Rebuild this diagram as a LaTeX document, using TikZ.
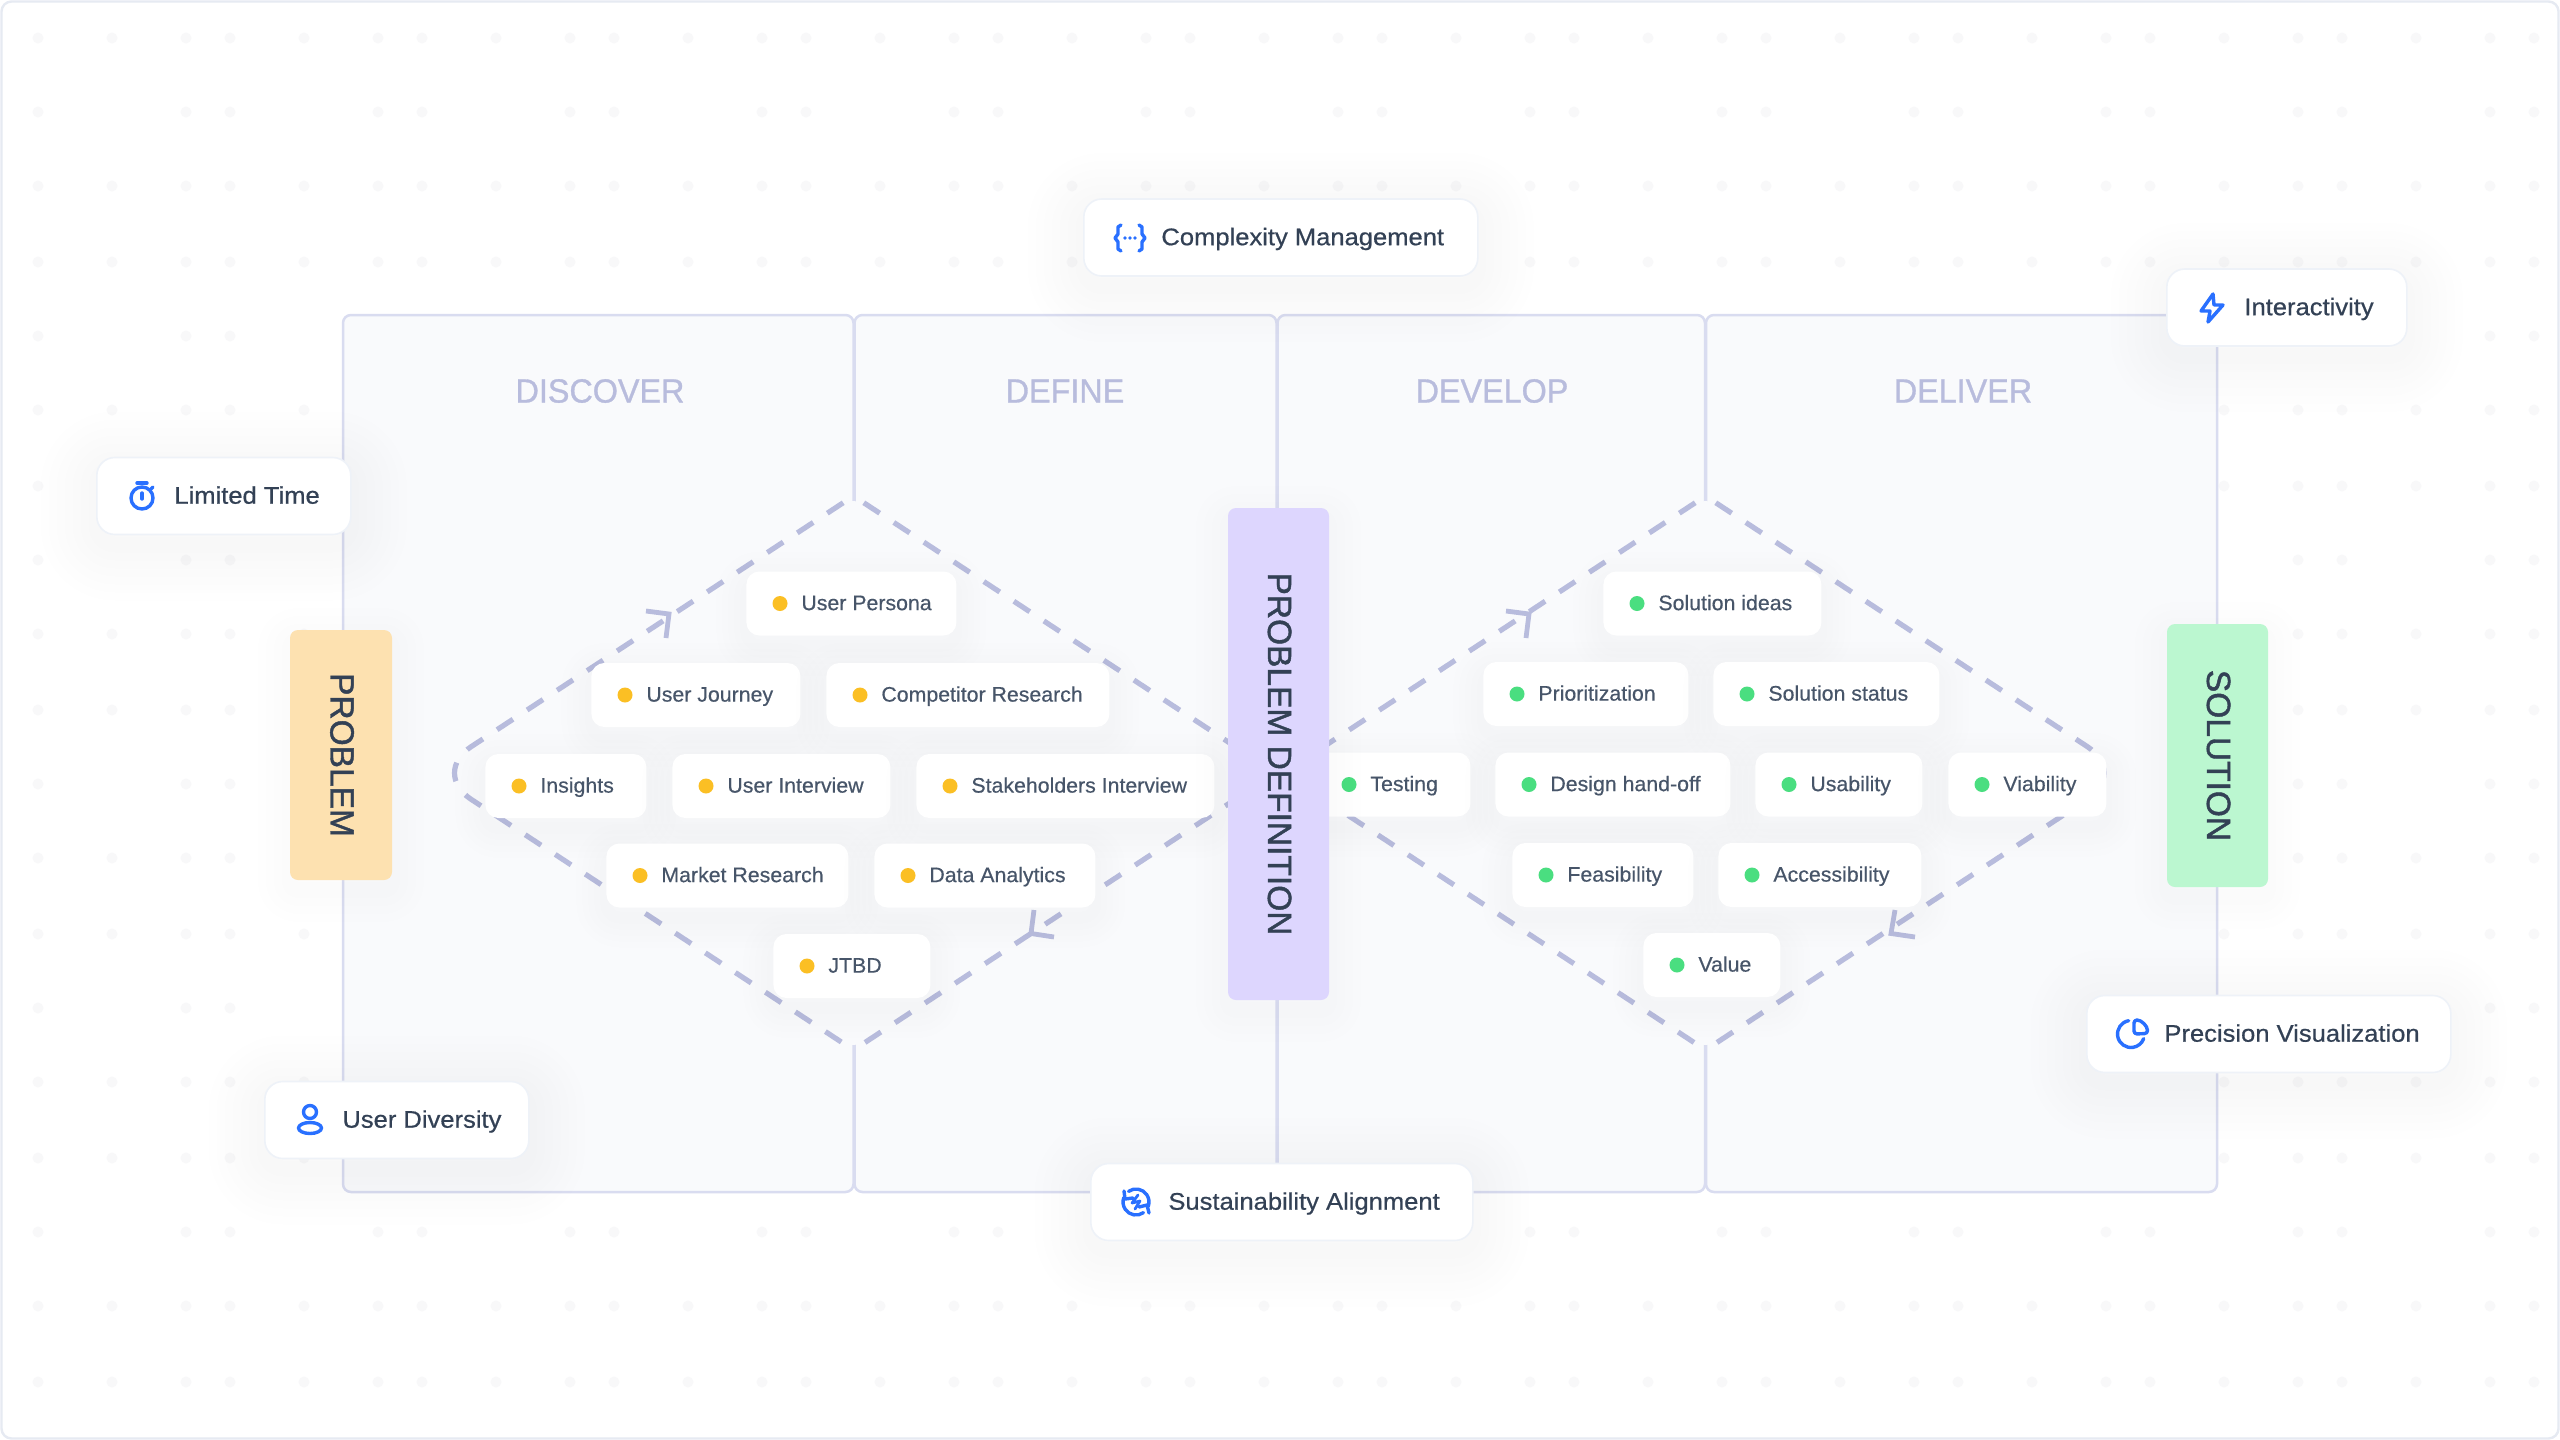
\documentclass[tikz,border=0pt]{standalone}
\usepackage{fontspec}
\newfontfamily\cardfont[FakeBold=0.6,FakeStretch=1.065]{Liberation Sans}
\newfontfamily\pillfont[FakeBold=0.45,FakeStretch=1.015]{Liberation Sans}
\newfontfamily\titlefont[FakeBold=0.9,FakeStretch=.965]{Liberation Sans}
\newfontfamily\barfont[FakeBold=1.3]{Liberation Sans}
\definecolor{panelfill}{HTML}{F9FAFC}
\definecolor{panelline}{HTML}{D9DCF0}
\definecolor{titlecol}{HTML}{B8BCDD}
\definecolor{dashcol}{HTML}{B8BCDD}
\definecolor{inkcol}{HTML}{334155}
\definecolor{pillink}{HTML}{475569}
\definecolor{iconblue}{HTML}{2970FF}
\definecolor{amberdot}{HTML}{FBBF24}
\definecolor{greendot}{HTML}{4ADE80}
\definecolor{bgdot}{HTML}{F8F8F9}
\definecolor{shadowcol}{HTML}{1E293B}
\definecolor{framecol}{HTML}{E6EAF2}
\definecolor{cardline}{HTML}{EEF2F8}
\definecolor{problemfill}{HTML}{FDE1B0}
\definecolor{definitionfill}{HTML}{DDD6FE}
\definecolor{solutionfill}{HTML}{BBF7D0}
\tikzset{
  glow/.style={preaction={draw=shadowcol,fill=none,draw opacity=.0045,line width=#1,line join=round,transform canvas={yshift=-5pt}}},
  panel/.style={draw=panelline,fill=panelfill,line width=1.25pt,rounded corners=4pt},
  coltitle/.style={text=titlecol,font=\titlefont\fontsize{16.75}{18}\selectfont,inner sep=0pt},
  card/.style={anchor=west,draw=cardline,fill=white,line width=.8pt,rounded corners=9pt,minimum height=38.5pt,
    glow=8pt,glow=16pt,glow=24pt,glow=32pt,glow=40pt,glow=48pt,glow=56pt},
  cardtext/.style={anchor=west,inner sep=0pt,text=inkcol,text height=7.7pt,text depth=0pt,font=\cardfont\fontsize{12}{14}\selectfont},
  pill/.style={anchor=west,fill=white,rounded corners=6.5pt,minimum height=32pt,
    glow=6pt,glow=12pt,glow=18pt,glow=24pt,glow=30pt},
  pilltext/.style={anchor=west,inner sep=0pt,text=pillink,text height=6.6pt,text depth=0pt,font=\pillfont\fontsize{10.5}{12}\selectfont},
  bar/.style={rotate=-90,rounded corners=4pt,text=inkcol,text height=10.5pt,text depth=0pt,font=\barfont\fontsize{16.75}{18}\selectfont,
    glow=8pt,glow=16pt,glow=24pt,glow=32pt},
  dashline/.style={draw=dashcol,line width=2.6pt,dash pattern=on 9.5pt off 8.45pt,dash phase=11.8pt},
  tipline/.style={draw=dashcol,line width=2.4pt},
  icon/.style={draw=iconblue,line width=1.7pt,line join=round,line cap=round}
}
\begin{document}
\begin{tikzpicture}[x=.5pt,y=-.5pt]
   \useasboundingbox (0,0) rectangle (2560,1440);
   \draw[draw=framecol,fill=white,line width=1.2pt,rounded corners=5pt] (1.5,1.5) rectangle (2558.5,1438.5);

   % dots of the backdrop
   \foreach \i in {0,...,13} {
     \foreach \j in {0,...,6} {
       \foreach \u/\v in {0/0,74/0,148/0,0/74,148/74,0/148,74/148,148/148} {
         \fill[bgdot] (38+192*\i+\u,38+224*\j+\v) circle (5.5);
       }
     }
   }

   \draw[panel] (343,315) rectangle (853.5,1192);
   \draw[panel] (854.5,315) rectangle (1276.5,1192);
   \draw[panel] (1277.5,315) rectangle (1705,1192);
   \draw[panel] (1706,315) rectangle (2217,1192);

   \node[coltitle] (discover) at (600,391) {DISCOVER};
   \node[coltitle] (define) at (1065,391) {DEFINE};
   \node[coltitle] (develop) at (1492,391) {DEVELOP};
   \node[coltitle] (deliver) at (1963,391) {DELIVER};

   % the two diamonds
   \coordinate (ltop) at (853.5,496);
   \coordinate (lleft) at (431,773);
   \coordinate (lbot) at (853.5,1050);
   \coordinate (lright) at (1275.5,773);
   \coordinate (rtop) at (1705.5,496);
   \coordinate (rleft) at (1283.5,773);
   \coordinate (rbot) at (1705.5,1050);
   \coordinate (rright) at (2127.5,773);

   \fill[panelfill,rounded corners=8pt] (ltop) -- (lleft) -- (lbot) -- (lright) -- cycle;
   \fill[panelfill,rounded corners=8pt] (rtop) -- (rleft) -- (rbot) -- (rright) -- cycle;
   \draw[dashline,rounded corners=24pt] (ltop) -- (lleft) -- (lbot);
   \draw[dashline,rounded corners=24pt] (ltop) -- (lright) -- (lbot);
   \draw[dashline,rounded corners=24pt] (rtop) -- (rleft) -- (rbot);
   \draw[dashline,rounded corners=24pt] (rtop) -- (rright) -- (rbot);

   \draw[tipline] (646,611) -- (669,614) -- (666,638);
   \draw[tipline] (1034,910) -- (1031,933.5) -- (1054,937);
   \draw[tipline] (1506,611) -- (1529,614) -- (1526,638);
   \draw[tipline] (1895,910) -- (1891,933.5) -- (1915,937);

   \foreach \pid/\lx/\ly/\pw/\ptxt in {
       persona/746/603.5/105/User Persona, journey/591/695/104.5/User Journey,
       competitor/826/695/141.5/Competitor Research, insights/485/786/80.5/Insights,
       uinterview/672/786/109/User Interview, stakeholders/916/786/149/Stakeholders Interview,
       market/606/875.5/121/Market Research, analytics/874/875.5/110.5/Data Analytics,
       jtbd/773/966/78.5/JTBD} {
     \node[pill,minimum width=\pw pt] (\pid) at (\lx,\ly) {};
     \fill[amberdot] ([xshift=17pt]\pid.west) circle (7.5);
     \node[pilltext] (\pid-txt) at ([xshift=27.5pt]\pid.west) {\ptxt};
   }
   \foreach \pid/\lx/\ly/\pw/\ptxt in {
       ideas/1603/603.5/109/Solution ideas, priority/1483/694/102.5/Prioritization,
       status/1713/694/113/Solution status, testing/1315/784.5/77.5/Testing,
       handoff/1495/784.5/117.5/Design hand-off, usability/1755/784.5/83.5/Usability,
       viability/1948/784.5/79/Viability, feasibility/1512/875/90.5/Feasibility,
       access/1718/875/101.5/Accessibility, value/1643/965/68.5/Value} {
     \node[pill,minimum width=\pw pt] (\pid) at (\lx,\ly) {};
     \fill[greendot] ([xshift=17pt]\pid.west) circle (7.5);
     \node[pilltext] (\pid-txt) at ([xshift=27.5pt]\pid.west) {\ptxt};
   }

   \node[bar,fill=problemfill,minimum width=125pt,minimum height=51pt] (problem) at (341,755) {PROBLEM};
   \node[bar,fill=definitionfill,minimum width=246pt,minimum height=50.5pt] (definition) at (1278.5,754) {PROBLEM DEFINITION};
   \node[bar,fill=solutionfill,minimum width=131.5pt,minimum height=50.5pt] (solution) at (2217.5,755.5) {SOLUTION};

   \foreach \cid/\lx/\ly/\cw/\ctxt in {
       complexity/1083/237.5/197/Complexity Management, interact/2166/307.5/120/Interactivity,
       limited/96/496/127/Limited Time, diversity/264/1120/132/User Diversity,
       sustain/1090/1202/191/Sustainability Alignment, precision/2086/1034/182/Precision Visualization} {
     \node[card,minimum width=\cw pt] (\cid) at (\lx,\ly) {};
     \node[cardtext] (\cid-txt) at ([xshift=39pt]\cid.west) {\ctxt};
   }

   % icons
   \draw[icon] (1121,225) -- (1118,227) -- (1118,234) -- (1115,238) -- (1118,242) -- (1118,249) -- (1121,251);
   \draw[icon] (1139,225) -- (1142,227) -- (1142,234) -- (1145,238) -- (1142,242) -- (1142,249) -- (1139,251);
   \fill[iconblue] (1125,238) circle (1.8) (1130,238) circle (1.8) (1135,238) circle (1.8);

   \draw[icon] (2213,294) -- (2201,311) -- (2210,311) -- (2208,322) -- (2223,305) -- (2214,305) -- cycle;

   \draw[icon] (142,498) circle (11);
   \draw[icon] (137,483) -- (147,483);
   \draw[icon] (142,493) -- (142,499);
   \draw[icon] (151,489) -- (153,487);

   \draw[icon] (310,1112) circle (6.5);
   \draw[icon] (310,1128) ellipse (11.5 and 5.5);

   \draw[icon] (1136,1202) ++(-125:13) arc (-125:20:13);
   \draw[icon] (1136,1202) ++(55:13) arc (55:200:13);
   \draw[icon] (1124,1191) -- (1125,1199) -- (1133,1198);
   \draw[icon] (1149,1213) -- (1147,1205) -- (1139,1207);
   \draw[icon,line width=1.4pt] (1138,1195) -- (1132,1203) -- (1140,1201) -- (1135,1209);

   \draw[icon] (2131,1034) ++(-100:13.5) arc (-100:-340:13.5);
   \draw[icon,rounded corners=1.5pt] (2134,1034) -- (2134,1020) arc (-90:0:13.5) -- cycle;
\end{tikzpicture}
\end{document}
